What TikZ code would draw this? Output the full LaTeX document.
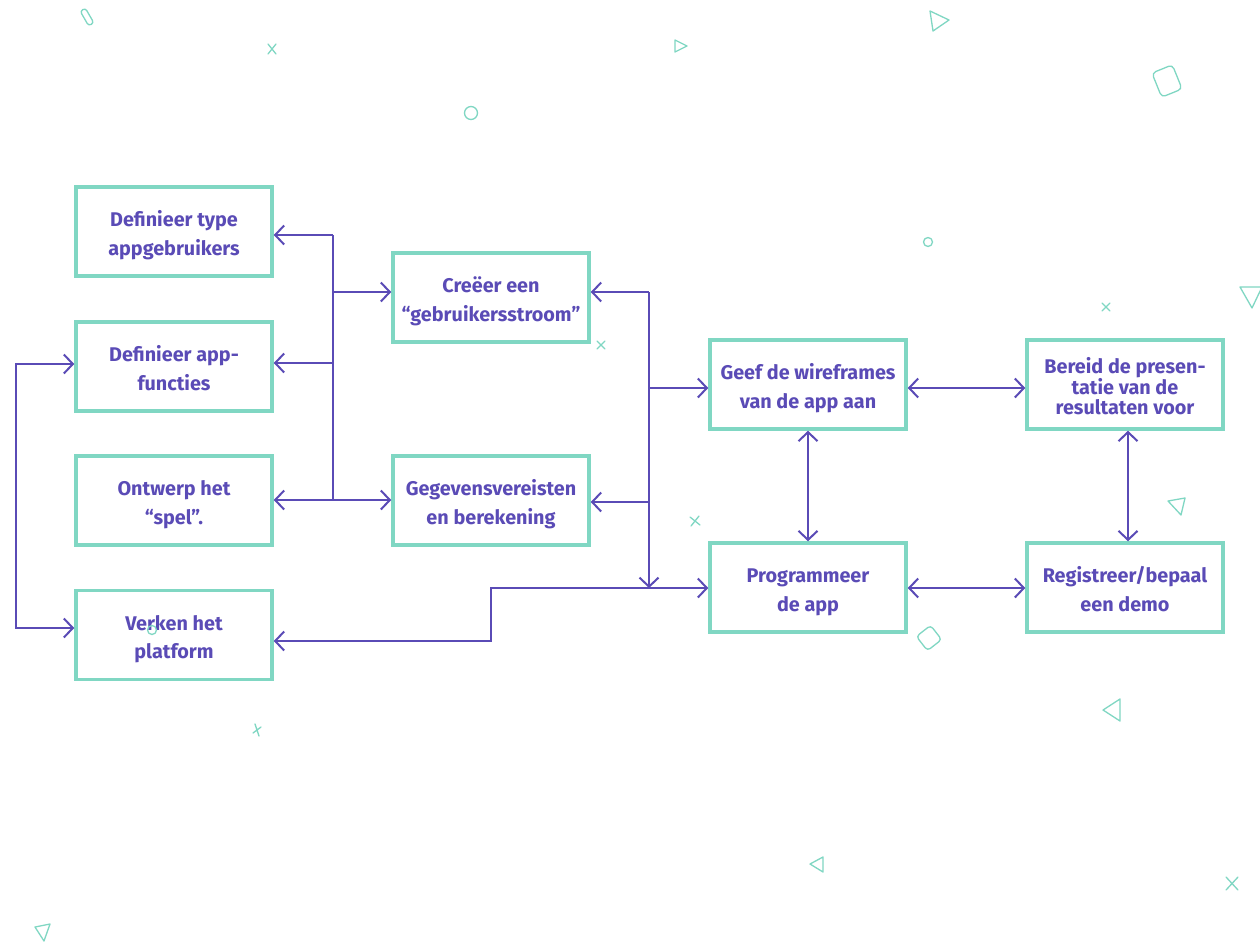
\documentclass[tikz,border=0pt]{standalone}
\usepackage{fontspec}
\setmainfont{Fira Sans}
\usetikzlibrary{arrows.meta}
\definecolor{teal}{HTML}{80D7C3}
\definecolor{purp}{HTML}{5A4BB6}
\newcommand{\topstrut}{\rule{0pt}{25pt}}
\newcommand{\botstrut}{\rule[-6pt]{0pt}{6pt}}
\begin{document}
\begin{tikzpicture}[x=1pt,y=-1pt,
  box/.style={draw=teal, line width=3.5pt, minimum width=196pt, minimum height=89pt, inner sep=0pt, align=center, text=purp, font=\fontsize{19.8}{28.5}\selectfont\bfseries},
  tight/.style={font=\fontsize{19.8}{20.5}\selectfont\bfseries},
  conn/.style={draw=purp, line width=2pt},
  tipL/.style={conn, -{Straight Barb[length=9pt,width=19pt,line width=2pt]}},
  tipB/.style={conn, {Straight Barb[length=9pt,width=19pt,line width=2pt]}-{Straight Barb[length=9pt,width=19pt,line width=2pt]}},
  deco/.style={draw=teal, line width=1.3pt, line join=round, line cap=round}]
\useasboundingbox (0,0) rectangle (1260,943);
\fill[white] (0,0) rectangle (1260,943);

% boxes
\node[box] (b1) at (174,231.5) {\topstrut Definieer type\\appgebruikers\botstrut};
\node[box] (b2) at (174,366.5) {\topstrut Definieer app-\\functies\botstrut};
\node[box] (b3) at (174,500.5) {\topstrut Ontwerp het\\“spel”.\botstrut};
\node[box] (b4) at (174,635) {\topstrut Verken het\\platform\botstrut};
\node[box] (b5) at (491,297.5) {\topstrut Creëer een\\“gebruikersstroom”\botstrut};
\node[box] (b6) at (491,500.5) {\topstrut Gegevensvereisten\\en berekening\botstrut};
\node[box] (b7) at (808,384.5) {\topstrut Geef de wireframes\\van de app aan\botstrut};
\node[box, tight] (b8) at (1125,384.5) {\topstrut Bereid de presen-\\tatie van de\\resultaten voor\botstrut};
\node[box] (b9) at (808,587.5) {\topstrut Programmeer\\de app\botstrut};
\node[box] (b10) at (1125,587.5) {\topstrut Registreer/bepaal\\een demo\botstrut};

% junctions
\coordinate (jA) at (333,235);
\coordinate (jB) at (333,292);
\coordinate (jC) at (333,363);
\coordinate (jD) at (333,500);
\coordinate (kA) at (649,292);
\coordinate (kB) at (649,388);
\coordinate (kC) at (649,502);
\coordinate (kD) at (649,588);
\coordinate (m1) at (491,641);
\coordinate (m2) at (491,588);
\coordinate (l1) at (16,364);
\coordinate (l2) at (16,628);
\coordinate (r1) at (1128,0);

% left bus
\draw[conn] (jA) -- (jD);
\draw[tipL] (jA) -- (b1.east |- jA);
\draw[tipL] (jB) -- (b5.west |- jB);
\draw[tipL] (jC) -- (b2.east |- jC);
\draw[tipB] (b3.east |- jD) -- (b6.west |- jD);

% right bus
\draw[tipL] (kA) -- (kD);
\draw[tipL] (kA) -- (b5.east |- kA);
\draw[tipL] (kB) -- (b7.west |- kB);
\draw[tipL] (kC) -- (b6.east |- kC);
\draw[tipB] (b4.east |- m1) -- (m1) -- (m2) -- (b9.west |- m2);

% left loop
\draw[tipB] (b2.west |- l1) -- (l1) -- (l2) -- (b4.west |- l2);

% right part
\draw[tipB] (b7.east |- kB) -- (b8.west |- kB);
\draw[tipB] (b7.south) -- (b9.north);
\draw[tipB] (b8.south -| r1) -- (b10.north -| r1);
\draw[tipB] (b9.east |- kD) -- (b10.west |- kD);

% decorations
\draw[deco, rounded corners=2.8pt, rotate around={-60:(87,17)}] (78.5,14) rectangle (95.5,20);
\draw[deco] (268,44) -- (276,54) (276,44) -- (268,54);
\draw[deco] (675,40) -- (687,46) -- (675,52) -- cycle;
\draw[deco] (471,113) circle (6.5);
\draw[deco] (930,11) -- (949,20) -- (933,31) -- cycle;
\draw[deco, rounded corners=4pt, rotate around={22:(1167,81)}] (1156,68) rectangle (1178,94);
\draw[deco] (928,242) circle (4.5);
\draw[deco] (1102,303) -- (1110,311) (1110,303) -- (1102,311);
\draw[deco] (1240,287) -- (1262,287) -- (1252,308) -- cycle;
\draw[deco] (597,341) -- (605,349) (605,341) -- (597,349);
\draw[deco] (690,517) -- (700,525) (699,516) -- (691,526);
\draw[deco] (1168,501) -- (1185,498) -- (1181,515) -- cycle;
\draw[deco, rounded corners=3.5pt, rotate around={38:(929,638)}] (920,629) rectangle (938,647);
\draw[deco] (152,630) circle (4.5);
\draw[deco] (255,724) -- (259,736) (253,733) -- (261,727);
\draw[deco] (1120,699) -- (1103,710) -- (1120,721) -- cycle;
\draw[deco] (823,857) -- (810,864) -- (823,872) -- cycle;
\draw[deco] (1226,877) -- (1238,890) (1238,877) -- (1226,890);
\draw[deco] (35,927) -- (50,924) -- (44,941) -- cycle;
\end{tikzpicture}
\end{document}
